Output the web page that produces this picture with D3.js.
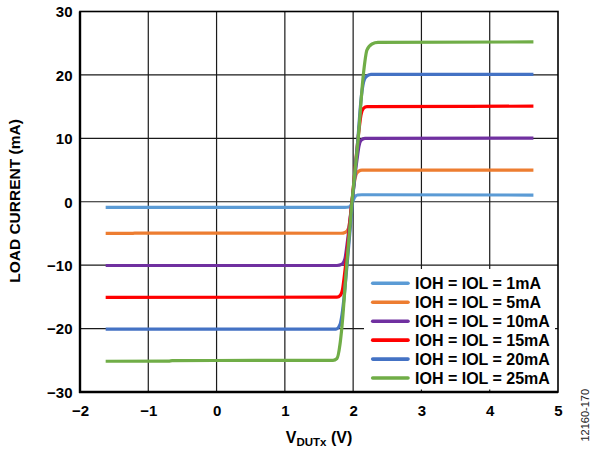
<!DOCTYPE html>
<html>
<head>
<meta charset="utf-8">
<script src="https://cdn.jsdelivr.net/npm/d3@7"></script>
<style>
html,body{margin:0;padding:0;background:#fff;}
svg{display:block;font-family:"Liberation Sans",Arial,Helvetica,sans-serif;}
</style>
</head>
<body>
<svg id="chart" width="597" height="449"></svg>
<script>
// ---- data ----
const xTicks = [-2, -1, 0, 1, 2, 3, 4, 5];
const yTicks = [-30, -20, -10, 0, 10, 20, 30];
const seriesNames = ["IOH = IOL = 1mA", "IOH = IOL = 5mA", "IOH = IOL = 10mA", "IOH = IOL = 15mA", "IOH = IOL = 20mA", "IOH = IOL = 25mA"];
const seriesColors = ["#5b9bd5", "#ed7d31", "#7030a0", "#ff0000", "#4472c4", "#70ad47"];

const s1mA = [[-1.624,-0.90],[1.880,-0.90],[1.939,-0.83],[1.968,-0.55],[1.998,0.16],[2.027,0.79],[2.064,1.06],[2.129,1.10],[4.64,1.06]];
const s5mA = [[-1.624,-5.0],[-1.25,-5.0],[-1.2,-4.95],[1.822,-4.97],[1.888,-4.80],[1.932,-4.17],[1.954,-2.83],[1.983,0],[2.020,3.15],[2.042,4.25],[2.078,4.80],[2.129,4.99],[4.64,5.0]];
const s10mA = [[-1.624,-10.05],[1.763,-10.05],[1.837,-9.84],[1.880,-8.98],[1.910,-6.77],[1.983,0],[2.056,6.61],[2.086,8.82],[2.115,9.69],[2.173,10.0],[4.64,10.03]];
const s15mA = [[-1.624,-15.07],[1.763,-15.05],[1.815,-14.72],[1.844,-13.86],[1.873,-11.50],[1.983,0],[2.086,11.34],[2.115,13.70],[2.151,14.72],[2.203,14.99],[4.64,15.07]];
const s20mA = [[-1.624,-20.1],[1.749,-20.08],[1.807,-19.37],[1.837,-17.80],[1.910,-10.08],[1.990,0],[2.071,10.08],[2.115,16.06],[2.144,18.43],[2.188,19.69],[2.261,20.08],[4.64,20.1]];
const s25mA = [[-1.624,-25.15],[-0.70,-25.12],[-0.65,-25.05],[1.705,-25.0],[1.763,-24.72],[1.807,-22.52],[1.832,-20.16],[1.905,-10.08],[1.983,0],[2.075,10.08],[2.149,20.0],[2.203,23.94],[2.276,24.88],[2.364,25.12],[4.64,25.2]];
const seriesData = [s1mA, s5mA, s10mA, s15mA, s20mA, s25mA];

// ---- layout ----
const L = 80, R = 558, T = 11.5, B = 392;
const svg = d3.select("#chart");
const x = d3.scaleLinear().domain([-2, 5]).range([L, R]);
const y = d3.scaleLinear().domain([-30, 30]).range([B, T]);

// gridlines
const grid = svg.append("g");
grid.selectAll(".vg").data(xTicks.filter(d => d > -2 && d < 5)).enter().append("line")
  .attr("x1", d => x(d)).attr("x2", d => x(d)).attr("y1", T).attr("y2", B)
  .attr("stroke", "#1a1a1a").attr("stroke-width", 1.2);
grid.selectAll(".hg").data(yTicks.filter(d => d > -30 && d < 30)).enter().append("line")
  .attr("x1", L).attr("x2", R).attr("y1", d => y(d)).attr("y2", d => y(d))
  .attr("stroke", "#1a1a1a").attr("stroke-width", 1.2);

// frame
svg.append("rect").attr("x", L).attr("y", T).attr("width", R - L).attr("height", B - T)
  .attr("fill", "none").attr("stroke", "#000").attr("stroke-width", 1.6);
svg.append("line").attr("x1", L).attr("x2", L).attr("y1", T).attr("y2", B + 1).attr("stroke", "#000").attr("stroke-width", 2.4);
svg.append("line").attr("x1", L - 1).attr("x2", R).attr("y1", B).attr("y2", B).attr("stroke", "#000").attr("stroke-width", 2.4);

// axes labels via d3 axes (no tick lines)
const xAxis = d3.axisBottom(x).tickValues(xTicks).tickSize(0).tickPadding(0)
  .tickFormat(d => d < 0 ? "\u2212" + Math.abs(d) : String(d));
const gx = svg.append("g").attr("transform", `translate(0,${B})`).call(xAxis);
gx.select(".domain").remove();
gx.selectAll("text").attr("dy", null).attr("y", 23.5)
  .attr("font-size", "15px").attr("font-weight", "bold").attr("fill", "#000")
  .attr("font-family", "Liberation Sans, Arial, sans-serif");

const yAxis = d3.axisLeft(y).tickValues(yTicks).tickSize(0).tickPadding(0)
  .tickFormat(d => d < 0 ? "\u2212" + Math.abs(d) : String(d));
const gy = svg.append("g").attr("transform", `translate(${L},0)`).call(yAxis);
gy.select(".domain").remove();
gy.selectAll("text").attr("x", -7.5).attr("dy", "0.36em")
  .attr("font-size", "15px").attr("font-weight", "bold").attr("fill", "#000")
  .attr("font-family", "Liberation Sans, Arial, sans-serif");

// series lines
const line = d3.line().x(d => x(d[0])).y(d => y(d[1])).curve(d3.curveMonotoneX);
svg.append("g").selectAll("path").data(seriesData).enter().append("path")
  .attr("d", line).attr("fill", "none")
  .attr("stroke", (d, i) => seriesColors[i]).attr("stroke-width", 3.2)
  .attr("stroke-linejoin", "round").attr("stroke-linecap", "butt");

// legend
const lg = svg.append("g");
lg.append("rect").attr("x", 364).attr("y", 269).attr("width", 191).attr("height", 120.5).attr("fill", "#fff");
const rows = lg.selectAll(".row").data(seriesNames).enter().append("g")
  .attr("transform", (d, i) => `translate(0,${283.3 + i * 18.95})`);
rows.append("line").attr("x1", 372.7).attr("x2", 408).attr("y1", 0).attr("y2", 0)
  .attr("stroke", (d, i) => seriesColors[i]).attr("stroke-width", 3.6).attr("stroke-linecap", "round");
rows.append("text").attr("x", 415).attr("y", 0).attr("dy", "0.36em")
  .attr("font-size", "16px").attr("font-weight", "bold").attr("fill", "#000").text(d => d);

// axis titles
svg.append("text").attr("transform", "translate(20,201) rotate(-90)")
  .attr("text-anchor", "middle").attr("font-size", "15.5px").attr("font-weight", "bold")
  .text("LOAD CURRENT (mA)");

const xt = svg.append("text").attr("x", 319).attr("y", 443).attr("text-anchor", "middle")
  .attr("font-size", "16px").attr("font-weight", "bold");
xt.append("tspan").text("V");
xt.append("tspan").attr("font-size", "11.5px").attr("dy", 3).text("DUTx");
xt.append("tspan").attr("dy", -3).text(" (V)");

svg.append("text").attr("transform", "translate(588.5,441.5) rotate(-90)")
  .attr("font-size", "11px").attr("fill", "#222").text("12160-170");
</script>
</body>
</html>
